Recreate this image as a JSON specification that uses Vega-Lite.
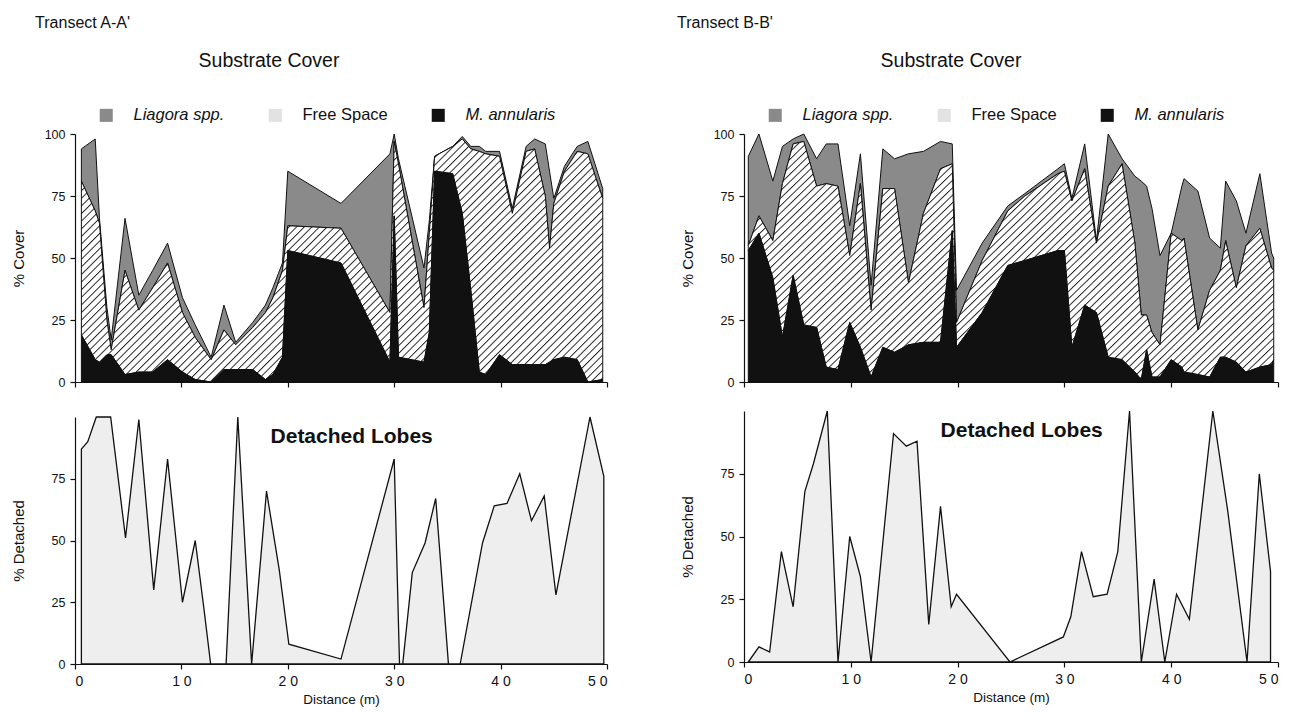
{
  "$schema": "https://vega.github.io/schema/vega-lite/v6.json",
  "background": "white",
  "padding": {"left": 11, "top": 14, "right": 5, "bottom": 2},
  "config": {
    "font": "Liberation Sans",
    "view": {"stroke": null},
    "axis": {"grid": false, "domainColor": "#111", "tickColor": "#111", "labelColor": "#111", "titleColor": "#111", "labelFont": "Liberation Sans", "titleFont": "Liberation Sans", "labelFontSize": 12.5, "titleFontSize": 15, "titleFontWeight": "normal", "tickSize": 5, "domainWidth": 1.2, "tickWidth": 1.2, "labelPadding": 5},
    "title": {"font": "Liberation Sans", "color": "#111", "fontWeight": "normal"},
    "text": {"font": "Liberation Sans", "color": "#111"},
    "legend": {
      "orient": "none", "legendX": 23, "legendY": -27, "direction": "horizontal", "title": null,
      "symbolType": "square", "symbolSize": 170, "symbolStrokeColor": "#111", "symbolStrokeWidth": 1,
      "labelFontSize": 16.5, "labelOffset": 19, "columnPadding": 41, "labelColor": "#111", "labelFont": "Liberation Sans",
      "padding": 0, "symbolOpacity": 1
    },
    "area": {"fill": {"gradient": "linear", "x1": 0, "y1": 0, "x2": 1.2, "y2": 0.56, "stops": [
{"offset":0,"color":"#fff"},{"offset":0.0065,"color":"#fff"},{"offset":0.008,"color":"#222"},
{"offset":0.01,"color":"#fff"},{"offset":0.0165,"color":"#fff"},{"offset":0.018,"color":"#222"},
{"offset":0.02,"color":"#fff"},{"offset":0.0265,"color":"#fff"},{"offset":0.028,"color":"#222"},
{"offset":0.03,"color":"#fff"},{"offset":0.0365,"color":"#fff"},{"offset":0.038,"color":"#222"},
{"offset":0.04,"color":"#fff"},{"offset":0.0465,"color":"#fff"},{"offset":0.048,"color":"#222"},
{"offset":0.05,"color":"#fff"},{"offset":0.0565,"color":"#fff"},{"offset":0.058,"color":"#222"},
{"offset":0.06,"color":"#fff"},{"offset":0.0665,"color":"#fff"},{"offset":0.068,"color":"#222"},
{"offset":0.07,"color":"#fff"},{"offset":0.0765,"color":"#fff"},{"offset":0.078,"color":"#222"},
{"offset":0.08,"color":"#fff"},{"offset":0.0865,"color":"#fff"},{"offset":0.088,"color":"#222"},
{"offset":0.09,"color":"#fff"},{"offset":0.0965,"color":"#fff"},{"offset":0.098,"color":"#222"},
{"offset":0.10,"color":"#fff"},{"offset":0.1065,"color":"#fff"},{"offset":0.108,"color":"#222"},
{"offset":0.11,"color":"#fff"},{"offset":0.1165,"color":"#fff"},{"offset":0.118,"color":"#222"},
{"offset":0.12,"color":"#fff"},{"offset":0.1265,"color":"#fff"},{"offset":0.128,"color":"#222"},
{"offset":0.13,"color":"#fff"},{"offset":0.1365,"color":"#fff"},{"offset":0.138,"color":"#222"},
{"offset":0.14,"color":"#fff"},{"offset":0.1465,"color":"#fff"},{"offset":0.148,"color":"#222"},
{"offset":0.15,"color":"#fff"},{"offset":0.1565,"color":"#fff"},{"offset":0.158,"color":"#222"},
{"offset":0.16,"color":"#fff"},{"offset":0.1665,"color":"#fff"},{"offset":0.168,"color":"#222"},
{"offset":0.17,"color":"#fff"},{"offset":0.1765,"color":"#fff"},{"offset":0.178,"color":"#222"},
{"offset":0.18,"color":"#fff"},{"offset":0.1865,"color":"#fff"},{"offset":0.188,"color":"#222"},
{"offset":0.19,"color":"#fff"},{"offset":0.1965,"color":"#fff"},{"offset":0.198,"color":"#222"},
{"offset":0.20,"color":"#fff"},{"offset":0.2065,"color":"#fff"},{"offset":0.208,"color":"#222"},
{"offset":0.21,"color":"#fff"},{"offset":0.2165,"color":"#fff"},{"offset":0.218,"color":"#222"},
{"offset":0.22,"color":"#fff"},{"offset":0.2265,"color":"#fff"},{"offset":0.228,"color":"#222"},
{"offset":0.23,"color":"#fff"},{"offset":0.2365,"color":"#fff"},{"offset":0.238,"color":"#222"},
{"offset":0.24,"color":"#fff"},{"offset":0.2465,"color":"#fff"},{"offset":0.248,"color":"#222"},
{"offset":0.25,"color":"#fff"},{"offset":0.2565,"color":"#fff"},{"offset":0.258,"color":"#222"},
{"offset":0.26,"color":"#fff"},{"offset":0.2665,"color":"#fff"},{"offset":0.268,"color":"#222"},
{"offset":0.27,"color":"#fff"},{"offset":0.2765,"color":"#fff"},{"offset":0.278,"color":"#222"},
{"offset":0.28,"color":"#fff"},{"offset":0.2865,"color":"#fff"},{"offset":0.288,"color":"#222"},
{"offset":0.29,"color":"#fff"},{"offset":0.2965,"color":"#fff"},{"offset":0.298,"color":"#222"},
{"offset":0.30,"color":"#fff"},{"offset":0.3065,"color":"#fff"},{"offset":0.308,"color":"#222"},
{"offset":0.31,"color":"#fff"},{"offset":0.3165,"color":"#fff"},{"offset":0.318,"color":"#222"},
{"offset":0.32,"color":"#fff"},{"offset":0.3265,"color":"#fff"},{"offset":0.328,"color":"#222"},
{"offset":0.33,"color":"#fff"},{"offset":0.3365,"color":"#fff"},{"offset":0.338,"color":"#222"},
{"offset":0.34,"color":"#fff"},{"offset":0.3465,"color":"#fff"},{"offset":0.348,"color":"#222"},
{"offset":0.35,"color":"#fff"},{"offset":0.3565,"color":"#fff"},{"offset":0.358,"color":"#222"},
{"offset":0.36,"color":"#fff"},{"offset":0.3665,"color":"#fff"},{"offset":0.368,"color":"#222"},
{"offset":0.37,"color":"#fff"},{"offset":0.3765,"color":"#fff"},{"offset":0.378,"color":"#222"},
{"offset":0.38,"color":"#fff"},{"offset":0.3865,"color":"#fff"},{"offset":0.388,"color":"#222"},
{"offset":0.39,"color":"#fff"},{"offset":0.3965,"color":"#fff"},{"offset":0.398,"color":"#222"},
{"offset":0.40,"color":"#fff"},{"offset":0.4065,"color":"#fff"},{"offset":0.408,"color":"#222"},
{"offset":0.41,"color":"#fff"},{"offset":0.4165,"color":"#fff"},{"offset":0.418,"color":"#222"},
{"offset":0.42,"color":"#fff"},{"offset":0.4265,"color":"#fff"},{"offset":0.428,"color":"#222"},
{"offset":0.43,"color":"#fff"},{"offset":0.4365,"color":"#fff"},{"offset":0.438,"color":"#222"},
{"offset":0.44,"color":"#fff"},{"offset":0.4465,"color":"#fff"},{"offset":0.448,"color":"#222"},
{"offset":0.45,"color":"#fff"},{"offset":0.4565,"color":"#fff"},{"offset":0.458,"color":"#222"},
{"offset":0.46,"color":"#fff"},{"offset":0.4665,"color":"#fff"},{"offset":0.468,"color":"#222"},
{"offset":0.47,"color":"#fff"},{"offset":0.4765,"color":"#fff"},{"offset":0.478,"color":"#222"},
{"offset":0.48,"color":"#fff"},{"offset":0.4865,"color":"#fff"},{"offset":0.488,"color":"#222"},
{"offset":0.49,"color":"#fff"},{"offset":0.4965,"color":"#fff"},{"offset":0.498,"color":"#222"},
{"offset":0.50,"color":"#fff"},{"offset":0.5065,"color":"#fff"},{"offset":0.508,"color":"#222"},
{"offset":0.51,"color":"#fff"},{"offset":0.5165,"color":"#fff"},{"offset":0.518,"color":"#222"},
{"offset":0.52,"color":"#fff"},{"offset":0.5265,"color":"#fff"},{"offset":0.528,"color":"#222"},
{"offset":0.53,"color":"#fff"},{"offset":0.5365,"color":"#fff"},{"offset":0.538,"color":"#222"},
{"offset":0.54,"color":"#fff"},{"offset":0.5465,"color":"#fff"},{"offset":0.548,"color":"#222"},
{"offset":0.55,"color":"#fff"},{"offset":0.5565,"color":"#fff"},{"offset":0.558,"color":"#222"},
{"offset":0.56,"color":"#fff"},{"offset":0.5665,"color":"#fff"},{"offset":0.568,"color":"#222"},
{"offset":0.57,"color":"#fff"},{"offset":0.5765,"color":"#fff"},{"offset":0.578,"color":"#222"},
{"offset":0.58,"color":"#fff"},{"offset":0.5865,"color":"#fff"},{"offset":0.588,"color":"#222"},
{"offset":0.59,"color":"#fff"},{"offset":0.5965,"color":"#fff"},{"offset":0.598,"color":"#222"},
{"offset":0.60,"color":"#fff"},{"offset":0.6065,"color":"#fff"},{"offset":0.608,"color":"#222"},
{"offset":0.61,"color":"#fff"},{"offset":0.6165,"color":"#fff"},{"offset":0.618,"color":"#222"},
{"offset":0.62,"color":"#fff"},{"offset":0.6265,"color":"#fff"},{"offset":0.628,"color":"#222"},
{"offset":0.63,"color":"#fff"},{"offset":0.6365,"color":"#fff"},{"offset":0.638,"color":"#222"},
{"offset":0.64,"color":"#fff"},{"offset":0.6465,"color":"#fff"},{"offset":0.648,"color":"#222"},
{"offset":0.65,"color":"#fff"},{"offset":0.6565,"color":"#fff"},{"offset":0.658,"color":"#222"},
{"offset":0.66,"color":"#fff"},{"offset":0.6665,"color":"#fff"},{"offset":0.668,"color":"#222"},
{"offset":0.67,"color":"#fff"},{"offset":0.6765,"color":"#fff"},{"offset":0.678,"color":"#222"},
{"offset":0.68,"color":"#fff"},{"offset":0.6865,"color":"#fff"},{"offset":0.688,"color":"#222"},
{"offset":0.69,"color":"#fff"},{"offset":0.6965,"color":"#fff"},{"offset":0.698,"color":"#222"},
{"offset":0.70,"color":"#fff"},{"offset":0.7065,"color":"#fff"},{"offset":0.708,"color":"#222"},
{"offset":0.71,"color":"#fff"},{"offset":0.7165,"color":"#fff"},{"offset":0.718,"color":"#222"},
{"offset":0.72,"color":"#fff"},{"offset":0.7265,"color":"#fff"},{"offset":0.728,"color":"#222"},
{"offset":0.73,"color":"#fff"},{"offset":0.7365,"color":"#fff"},{"offset":0.738,"color":"#222"},
{"offset":0.74,"color":"#fff"},{"offset":0.7465,"color":"#fff"},{"offset":0.748,"color":"#222"},
{"offset":0.75,"color":"#fff"},{"offset":0.7565,"color":"#fff"},{"offset":0.758,"color":"#222"},
{"offset":0.76,"color":"#fff"},{"offset":0.7665,"color":"#fff"},{"offset":0.768,"color":"#222"},
{"offset":0.77,"color":"#fff"},{"offset":0.7765,"color":"#fff"},{"offset":0.778,"color":"#222"},
{"offset":0.78,"color":"#fff"},{"offset":0.7865,"color":"#fff"},{"offset":0.788,"color":"#222"},
{"offset":0.79,"color":"#fff"},{"offset":0.7965,"color":"#fff"},{"offset":0.798,"color":"#222"},
{"offset":0.80,"color":"#fff"},{"offset":0.8065,"color":"#fff"},{"offset":0.808,"color":"#222"},
{"offset":0.81,"color":"#fff"},{"offset":0.8165,"color":"#fff"},{"offset":0.818,"color":"#222"},
{"offset":0.82,"color":"#fff"},{"offset":0.8265,"color":"#fff"},{"offset":0.828,"color":"#222"},
{"offset":0.83,"color":"#fff"},{"offset":0.8365,"color":"#fff"},{"offset":0.838,"color":"#222"},
{"offset":0.84,"color":"#fff"},{"offset":0.8465,"color":"#fff"},{"offset":0.848,"color":"#222"},
{"offset":0.85,"color":"#fff"},{"offset":0.8565,"color":"#fff"},{"offset":0.858,"color":"#222"},
{"offset":0.86,"color":"#fff"},{"offset":0.8665,"color":"#fff"},{"offset":0.868,"color":"#222"},
{"offset":0.87,"color":"#fff"},{"offset":0.8765,"color":"#fff"},{"offset":0.878,"color":"#222"},
{"offset":0.88,"color":"#fff"},{"offset":0.8865,"color":"#fff"},{"offset":0.888,"color":"#222"},
{"offset":0.89,"color":"#fff"},{"offset":0.8965,"color":"#fff"},{"offset":0.898,"color":"#222"},
{"offset":0.90,"color":"#fff"},{"offset":0.9065,"color":"#fff"},{"offset":0.908,"color":"#222"},
{"offset":0.91,"color":"#fff"},{"offset":0.9165,"color":"#fff"},{"offset":0.918,"color":"#222"},
{"offset":0.92,"color":"#fff"},{"offset":0.9265,"color":"#fff"},{"offset":0.928,"color":"#222"},
{"offset":0.93,"color":"#fff"},{"offset":0.9365,"color":"#fff"},{"offset":0.938,"color":"#222"},
{"offset":0.94,"color":"#fff"},{"offset":0.9465,"color":"#fff"},{"offset":0.948,"color":"#222"},
{"offset":0.95,"color":"#fff"},{"offset":0.9565,"color":"#fff"},{"offset":0.958,"color":"#222"},
{"offset":0.96,"color":"#fff"},{"offset":0.9665,"color":"#fff"},{"offset":0.968,"color":"#222"},
{"offset":0.97,"color":"#fff"},{"offset":0.9765,"color":"#fff"},{"offset":0.978,"color":"#222"},
{"offset":0.98,"color":"#fff"},{"offset":0.9865,"color":"#fff"},{"offset":0.988,"color":"#222"},
{"offset":0.99,"color":"#fff"},{"offset":0.9965,"color":"#fff"},{"offset":0.998,"color":"#222"},
{"offset":1,"color":"#fff"}
    ]}}
  },
  "datasets": {
    "a_cover": [
      {"d": 0.6, "m": 19, "f": 81, "t": 94},
      {"d": 1.9, "m": 9, "f": 69, "t": 98},
      {"d": 2.3, "m": 8, "f": 64, "t": 66},
      {"d": 3.0, "m": 11, "f": 25, "t": 30},
      {"d": 3.4, "m": 11, "f": 13, "t": 17},
      {"d": 4.7, "m": 3, "f": 45, "t": 66},
      {"d": 6.0, "m": 4, "f": 29, "t": 35},
      {"d": 7.3, "m": 4, "f": 38, "t": 45},
      {"d": 8.7, "m": 9, "f": 48, "t": 56},
      {"d": 10.1, "m": 4, "f": 28, "t": 34},
      {"d": 11.3, "m": 1, "f": 18, "t": 23},
      {"d": 12.8, "m": 0, "f": 9, "t": 10},
      {"d": 14.0, "m": 5, "f": 21, "t": 31},
      {"d": 15.1, "m": 5, "f": 15, "t": 16},
      {"d": 16.7, "m": 5, "f": 22, "t": 24},
      {"d": 17.9, "m": 1, "f": 28, "t": 31},
      {"d": 18.6, "m": 3, "f": 34, "t": 38},
      {"d": 19.5, "m": 10, "f": 45, "t": 48},
      {"d": 20.0, "m": 53, "f": 63, "t": 85},
      {"d": 25.0, "m": 48, "f": 62, "t": 72},
      {"d": 29.6, "m": 8, "f": 28, "t": 92},
      {"d": 30.0, "m": 67, "f": 97, "t": 100},
      {"d": 30.4, "m": 10, "f": 88, "t": 90},
      {"d": 32.8, "m": 8, "f": 30, "t": 46},
      {"d": 33.3, "m": 20, "f": 60, "t": 65},
      {"d": 33.8, "m": 85, "f": 91, "t": 91},
      {"d": 35.5, "m": 84, "f": 95, "t": 95},
      {"d": 36.4, "m": 68, "f": 98, "t": 99},
      {"d": 37.2, "m": 37, "f": 94, "t": 95},
      {"d": 38.0, "m": 4, "f": 93, "t": 95},
      {"d": 38.6, "m": 3, "f": 92, "t": 93},
      {"d": 39.9, "m": 11, "f": 91, "t": 93},
      {"d": 41.1, "m": 7, "f": 68, "t": 70},
      {"d": 42.4, "m": 7, "f": 93, "t": 95},
      {"d": 43.2, "m": 7, "f": 94, "t": 98},
      {"d": 44.2, "m": 7, "f": 75, "t": 96},
      {"d": 44.6, "m": 8, "f": 54, "t": 85},
      {"d": 45.0, "m": 9, "f": 72, "t": 74},
      {"d": 46.0, "m": 10, "f": 85, "t": 87},
      {"d": 47.2, "m": 9, "f": 93, "t": 95},
      {"d": 48.2, "m": 0, "f": 92, "t": 97},
      {"d": 49.6, "m": 1, "f": 74, "t": 78}
    ],
    "b_cover": [
      {"d": 0.4, "m": 53, "f": 55, "t": 91},
      {"d": 1.4, "m": 60, "f": 67, "t": 100},
      {"d": 2.7, "m": 42, "f": 57, "t": 81},
      {"d": 3.6, "m": 18, "f": 80, "t": 95},
      {"d": 4.6, "m": 43, "f": 96, "t": 98},
      {"d": 5.6, "m": 23, "f": 97, "t": 100},
      {"d": 6.8, "m": 22, "f": 79, "t": 90},
      {"d": 7.7, "m": 6, "f": 80, "t": 96},
      {"d": 8.8, "m": 5, "f": 79, "t": 96},
      {"d": 9.9, "m": 24, "f": 51, "t": 63},
      {"d": 10.9, "m": 14, "f": 80, "t": 92},
      {"d": 11.9, "m": 2, "f": 29, "t": 39},
      {"d": 13.0, "m": 14, "f": 78, "t": 94},
      {"d": 14.1, "m": 12, "f": 78, "t": 90},
      {"d": 15.4, "m": 15, "f": 40, "t": 92},
      {"d": 16.8, "m": 16, "f": 68, "t": 93},
      {"d": 18.4, "m": 16, "f": 86, "t": 97},
      {"d": 19.5, "m": 61, "f": 88, "t": 96},
      {"d": 19.9, "m": 14, "f": 24, "t": 37},
      {"d": 22.3, "m": 28, "f": 49, "t": 56},
      {"d": 24.7, "m": 47, "f": 69, "t": 71},
      {"d": 26.3, "m": 49, "f": 75, "t": 76},
      {"d": 29.4, "m": 53, "f": 84, "t": 86},
      {"d": 30.0, "m": 53, "f": 85, "t": 88},
      {"d": 30.7, "m": 14, "f": 73, "t": 74},
      {"d": 31.9, "m": 31, "f": 86, "t": 96},
      {"d": 33.0, "m": 28, "f": 56, "t": 57},
      {"d": 34.1, "m": 10, "f": 79, "t": 100},
      {"d": 35.4, "m": 9, "f": 88, "t": 90},
      {"d": 36.6, "m": 4, "f": 56, "t": 83},
      {"d": 37.2, "m": 1, "f": 27, "t": 81},
      {"d": 37.7, "m": 13, "f": 27, "t": 79},
      {"d": 38.2, "m": 2, "f": 20, "t": 70},
      {"d": 38.95, "m": 2, "f": 15, "t": 51},
      {"d": 40.0, "m": 9, "f": 60, "t": 60},
      {"d": 41.0, "m": 6, "f": 57, "t": 79},
      {"d": 41.2, "m": 4, "f": 58, "t": 82},
      {"d": 42.5, "m": 3, "f": 21, "t": 77},
      {"d": 43.6, "m": 2, "f": 37, "t": 58},
      {"d": 44.6, "m": 10, "f": 45, "t": 54},
      {"d": 45.1, "m": 10, "f": 57, "t": 81},
      {"d": 46.1, "m": 8, "f": 38, "t": 73},
      {"d": 47.0, "m": 4, "f": 55, "t": 60},
      {"d": 48.3, "m": 6, "f": 62, "t": 84},
      {"d": 49.4, "m": 7, "f": 46, "t": 52},
      {"d": 49.6, "m": 9, "f": 45, "t": 50}
    ],
    "a_det": [
      {"d": 0.6, "v": 87}, {"d": 1.2, "v": 90}, {"d": 2.0, "v": 100}, {"d": 3.35, "v": 100},
      {"d": 4.75, "v": 51}, {"d": 6.0, "v": 99}, {"d": 7.4, "v": 30}, {"d": 8.7, "v": 83},
      {"d": 10.1, "v": 25}, {"d": 11.3, "v": 50}, {"d": 12.1, "v": 23}, {"d": 12.75, "v": 0},
      {"d": 14.2, "v": 0}, {"d": 15.3, "v": 100}, {"d": 16.6, "v": 0}, {"d": 18.0, "v": 70},
      {"d": 19.2, "v": 38}, {"d": 20.1, "v": 8}, {"d": 25.0, "v": 2}, {"d": 30.0, "v": 83},
      {"d": 30.5, "v": 0}, {"d": 30.8, "v": 0}, {"d": 31.7, "v": 37}, {"d": 32.9, "v": 49},
      {"d": 33.9, "v": 67}, {"d": 35.1, "v": 0}, {"d": 36.2, "v": 0}, {"d": 38.3, "v": 49},
      {"d": 39.4, "v": 64}, {"d": 40.6, "v": 65}, {"d": 41.8, "v": 77}, {"d": 42.9, "v": 58},
      {"d": 44.1, "v": 68}, {"d": 45.2, "v": 28}, {"d": 48.4, "v": 100}, {"d": 49.7, "v": 76}
    ],
    "b_det": [
      {"d": 0.4, "v": 0}, {"d": 1.4, "v": 6}, {"d": 2.4, "v": 4}, {"d": 3.5, "v": 44},
      {"d": 4.6, "v": 22}, {"d": 5.7, "v": 68}, {"d": 6.5, "v": 79}, {"d": 7.8, "v": 100},
      {"d": 8.8, "v": 0}, {"d": 9.9, "v": 50}, {"d": 10.9, "v": 34}, {"d": 11.9, "v": 0},
      {"d": 14.0, "v": 91}, {"d": 15.2, "v": 86}, {"d": 16.2, "v": 88}, {"d": 17.3, "v": 15},
      {"d": 18.4, "v": 62}, {"d": 19.4, "v": 22}, {"d": 19.9, "v": 27}, {"d": 24.9, "v": 0},
      {"d": 29.9, "v": 10}, {"d": 30.6, "v": 18}, {"d": 31.6, "v": 44}, {"d": 32.7, "v": 26},
      {"d": 34.0, "v": 27}, {"d": 35.0, "v": 44}, {"d": 36.1, "v": 100}, {"d": 37.2, "v": 0},
      {"d": 38.4, "v": 33}, {"d": 39.4, "v": 0}, {"d": 40.5, "v": 27}, {"d": 41.7, "v": 17},
      {"d": 43.9, "v": 100}, {"d": 45.3, "v": 60}, {"d": 47.1, "v": 0}, {"d": 48.25, "v": 75},
      {"d": 49.3, "v": 36}
    ]
  },
  "resolve": {"scale": {"color": "independent"}, "legend": {"color": "independent"}},
  "spacing": 69,
  "hconcat": [
    {
      "title": {"text": "Transect A-A'", "anchor": "start", "fontSize": 16, "offset": 20, "dx": 24},
      "resolve": {"scale": {"color": "independent"}, "legend": {"color": "independent"}},
      "spacing": 25,
      "vconcat": [
        {
          "width": 532, "height": 248,
          "title": {"text": "Substrate Cover", "fontSize": 19.5, "anchor": "middle", "dx": -72, "offset": 36},
          "data": {"name": "a_cover"},
          "encoding": {"x": {"field": "d", "type": "quantitative", "scale": {"domain": [0, 50], "nice": false}, "axis": {"values": [0, 10, 20, 30, 40, 50], "labels": false, "title": null}}},
          "layer": [
            {"mark": {"type": "area", "stroke": "#111", "strokeWidth": 1},
             "encoding": {
               "y": {"field": "t", "type": "quantitative", "title": "% Cover", "scale": {"domain": [0, 100], "nice": false}, "axis": {"values": [0, 25, 50, 75, 100], "titlePadding": 18}},
               "y2": {"field": "f"},
               "color": {"datum": "Liagora spp.", "type": "nominal",
                 "scale": {"domain": ["Liagora spp.", "Free Space", "M. annularis"], "range": ["#8a8a8a", "#e2e2e2", "#111111"]},
                 "legend": {"encode": {
                   "labels": {"update": {"fontStyle": {"signal": "datum.label === 'Free Space' ? 'normal' : 'italic'"}}},
                   "symbols": {"update": {"fill": {"signal": "datum.label === 'Free Space' ? '#ffffff' : '#1a1a1a'"}}}}}}}},
            {"mark": {"type": "area", "stroke": "#111", "strokeWidth": 1},
             "encoding": {"y": {"field": "f", "type": "quantitative", "title": "% Cover"}, "y2": {"field": "m"}}},
            {"mark": {"type": "area", "stroke": "#111", "strokeWidth": 1},
             "encoding": {"y": {"field": "m", "type": "quantitative", "title": "% Cover"}, "y2": {"datum": 0}, "color": {"datum": "M. annularis", "type": "nominal"}}},
            {"data": {"values": [{}]}, "mark": {"type": "text", "fontSize": 16, "align": "center", "baseline": "middle"},
             "encoding": {"x": {"datum": 0}, "y": {"datum": 108}, "text": {"value": "A"}}},
            {"data": {"values": [{}]}, "mark": {"type": "text", "fontSize": 16, "align": "center", "baseline": "middle"},
             "encoding": {"x": {"datum": 49.5}, "y": {"datum": 108}, "text": {"value": "A'"}}}
          ]
        },
        {
          "width": 532, "height": 247,
          "data": {"name": "a_det"},
          "layer": [
            {"mark": {"type": "area", "fill": "#eeeeee", "stroke": "#111", "strokeWidth": 1.3},
             "encoding": {
               "x": {"field": "d", "type": "quantitative", "scale": {"domain": [0, 50], "nice": false}, "axis": {"values": [0, 10, 20, 30, 40, 50], "labelExpr": "join(split(datum.label, ''), ' ')", "labelFontSize": 14, "title": "Distance (m)", "titleFontSize": 13.5, "titlePadding": 4}},
               "y": {"field": "v", "type": "quantitative", "title": "% Detached", "scale": {"domain": [0, 100], "nice": false}, "axis": {"values": [0, 25, 50, 75], "titlePadding": 25}}}},
            {"data": {"values": [{}]}, "mark": {"type": "text", "fontSize": 21, "fontWeight": "bold", "align": "center", "baseline": "middle"},
             "encoding": {"x": {"datum": 26}, "y": {"datum": 92}, "text": {"value": "Detached Lobes"}}}
          ]
        }
      ]
    },
    {
      "title": {"text": "Transect B-B'", "anchor": "start", "fontSize": 16, "offset": 20, "dx": -3},
      "resolve": {"scale": {"color": "independent"}, "legend": {"color": "independent"}},
      "spacing": 19,
      "vconcat": [
        {
          "width": 534, "height": 248,
          "title": {"text": "Substrate Cover", "fontSize": 19.5, "anchor": "middle", "dx": -60, "offset": 36},
          "data": {"name": "b_cover"},
          "encoding": {"x": {"field": "d", "type": "quantitative", "scale": {"domain": [0, 50], "nice": false}, "axis": {"values": [0, 10, 20, 30, 40, 50], "labels": false, "title": null}}},
          "layer": [
            {"mark": {"type": "area", "stroke": "#111", "strokeWidth": 1},
             "encoding": {
               "y": {"field": "t", "type": "quantitative", "title": "% Cover", "scale": {"domain": [0, 100], "nice": false}, "axis": {"values": [0, 25, 50, 75, 100], "titlePadding": 18}},
               "y2": {"field": "f"},
               "color": {"datum": "Liagora spp.", "type": "nominal",
                 "scale": {"domain": ["Liagora spp.", "Free Space", "M. annularis"], "range": ["#8a8a8a", "#e2e2e2", "#111111"]},
                 "legend": {"encode": {
                   "labels": {"update": {"fontStyle": {"signal": "datum.label === 'Free Space' ? 'normal' : 'italic'"}}},
                   "symbols": {"update": {"fill": {"signal": "datum.label === 'Free Space' ? '#ffffff' : '#1a1a1a'"}}}}}}}},
            {"mark": {"type": "area", "stroke": "#111", "strokeWidth": 1},
             "encoding": {"y": {"field": "f", "type": "quantitative", "title": "% Cover"}, "y2": {"field": "m"}}},
            {"mark": {"type": "area", "stroke": "#111", "strokeWidth": 1},
             "encoding": {"y": {"field": "m", "type": "quantitative", "title": "% Cover"}, "y2": {"datum": 0}, "color": {"datum": "M. annularis", "type": "nominal"}}},
            {"data": {"values": [{}]}, "mark": {"type": "text", "fontSize": 16, "align": "center", "baseline": "middle"},
             "encoding": {"x": {"datum": 0}, "y": {"datum": 108}, "text": {"value": "B"}}},
            {"data": {"values": [{}]}, "mark": {"type": "text", "fontSize": 16, "align": "center", "baseline": "middle"},
             "encoding": {"x": {"datum": 50}, "y": {"datum": 108}, "text": {"value": "B'"}}}
          ]
        },
        {
          "width": 534, "height": 251,
          "data": {"name": "b_det"},
          "layer": [
            {"mark": {"type": "area", "fill": "#eeeeee", "stroke": "#111", "strokeWidth": 1.3},
             "encoding": {
               "x": {"field": "d", "type": "quantitative", "scale": {"domain": [0, 50], "nice": false}, "axis": {"values": [0, 10, 20, 30, 40, 50], "labelExpr": "join(split(datum.label, ''), ' ')", "labelFontSize": 14, "title": "Distance (m)", "titleFontSize": 13.5, "titlePadding": 4}},
               "y": {"field": "v", "type": "quantitative", "title": "% Detached", "scale": {"domain": [0, 100], "nice": false}, "axis": {"values": [0, 25, 50, 75], "titlePadding": 25}}}},
            {"data": {"values": [{}]}, "mark": {"type": "text", "fontSize": 21, "fontWeight": "bold", "align": "center", "baseline": "middle"},
             "encoding": {"x": {"datum": 26}, "y": {"datum": 92}, "text": {"value": "Detached Lobes"}}}
          ]
        }
      ]
    }
  ]
}
